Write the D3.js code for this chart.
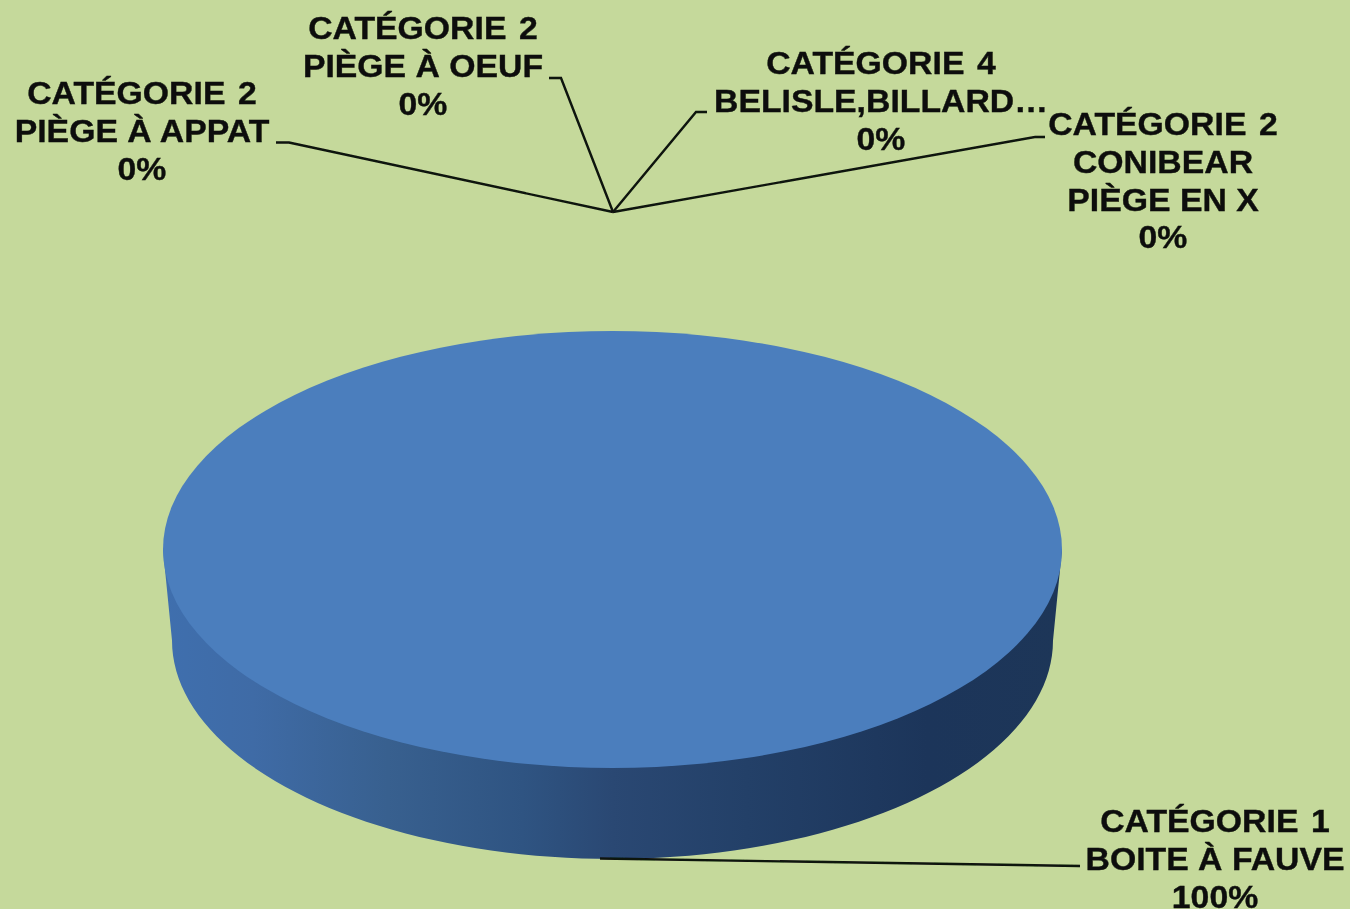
<!DOCTYPE html>
<html lang="fr">
<head>
<meta charset="utf-8">
<script src="https://cdn.jsdelivr.net/npm/d3@7/dist/d3.min.js"></script>
<style>
html,body{margin:0;padding:0;background:#c5d99b;overflow:hidden}
svg{display:block}
text{font-family:"Liberation Sans",Arial,sans-serif;font-weight:700;fill:#0b0f0a;stroke:#0b0f0a;stroke-width:.35px;text-anchor:middle;font-size:31px}
</style>
</head>
<body>
<div id="chart"></div>
<script>
const groups = ["CATÉGORIE 1","CATÉGORIE 2","CATÉGORIE 2","CATÉGORIE 4","CATÉGORIE 2"];
const names = [["BOITE À FAUVE"],["PIÈGE À APPAT"],["PIÈGE À OEUF"],["BELISLE,BILLARD…"],["CONIBEAR","PIÈGE EN X"]];
const values = [100,0,0,0,0];

// layout of labels (centre x, first baseline, leader start, leader elbow)
const labelX = [1215,142,423,881,1163];
const labelY = [832,104,39,74,135];
const leaderStart = [[1080,866],[276,142.5],[549,78],[707,112],[1045,137]];
const leaderElbow = [[1080,866],[289,142.5],[561,78],[696,112],[1035,137]];
const lineStep = 37.8;
const textStretch = 1.09;

const W = 1350, H = 909;
const cx = 612.5, cy = 549.5, rx = 449.5, ry = 218.5;
const rxB = 440.5, cyB = 640.5, ryB = 218.5;

const svg = d3.select("#chart").append("svg").attr("width",W).attr("height",H);
const defs = svg.append("defs");

const sideGrad = defs.append("linearGradient").attr("id","side")
  .attr("gradientUnits","userSpaceOnUse").attr("x1",163).attr("x2",1062).attr("y1",0).attr("y2",0);
[[0,"#3f6fae"],[0.1,"#3f6ba6"],[0.25,"#38608f"],[0.4,"#2f5482"],[0.5,"#2a4873"],[0.65,"#234068"],[0.85,"#1c355a"],[1,"#1d3658"]]
  .forEach(([o,c])=>sideGrad.append("stop").attr("offset",o).attr("stop-color",c));

defs.append("filter").attr("id","soft").append("feGaussianBlur").attr("stdDeviation",0.45);

const pie = d3.pie().sort(null).value(d=>d);
const arcs = pie(values);
const unit = d3.arc().innerRadius(0).outerRadius(1);

// side wall: from the left tangent of the top, round the lower ellipse, to the right tangent
const lowerRim = d3.range(0,181,2).map(a=>{
  const t = a*Math.PI/180;
  return [cx - rxB*Math.cos(t), cyB + ryB*Math.sin(t)];
});
const wall = [[cx-rx,cy],...lowerRim,[cx+rx,cy]];
svg.append("path").attr("d",d3.line().curve(d3.curveLinear)(wall)).attr("fill","url(#side)");

// top face, one path per pie slice (only the 100% slice has area)
const g = svg.append("g").attr("transform",`translate(${cx},${cy}) scale(${rx},${ry})`);
g.selectAll("path").data(arcs).join("path")
  .attr("d",unit).attr("fill","#4b7ebd");

const annot = svg.append("g").attr("filter","url(#soft)");

// leaders: zero slices sit at the top (angle 0) above the pie; full slice's anchor is at the bottom of the wall
const zeroAnchor = [613, 212];
const fullAnchor = [600, 858.5];
const line = d3.line();
arcs.forEach((a,i)=>{
  const anchor = a.value>0 ? fullAnchor : zeroAnchor;
  annot.append("path")
    .attr("d",line([leaderStart[i],leaderElbow[i],anchor]))
    .attr("fill","none").attr("stroke","#0c120c").attr("stroke-width",2.4);
});

// labels
groups.forEach((grp,i)=>{
  const lines = [grp,...names[i],values[i]+"%"];
  const t = annot.append("text").attr("transform",`translate(${labelX[i]},${labelY[i]}) scale(${textStretch},1)`);
  lines.forEach((s,k)=>t.append("tspan").attr("x",0).attr("dy",k?lineStep:0)
    .attr("word-spacing",k===0?"3px":null).text(s));
});
</script>
</body>
</html>
